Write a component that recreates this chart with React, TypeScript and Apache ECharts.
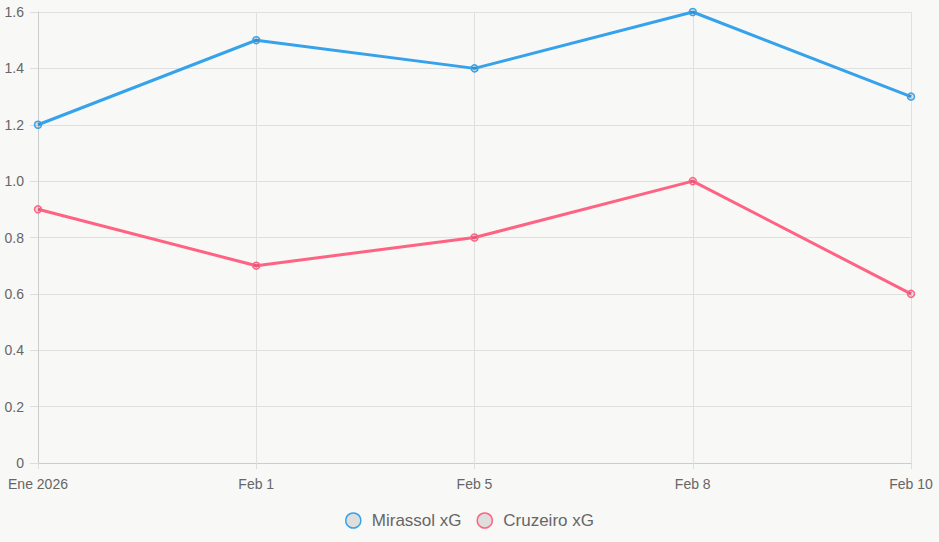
import React, { useEffect, useRef } from "react";
import * as echarts from "echarts";

const categories = ["Ene 2026", "Feb 1", "Feb 5", "Feb 8", "Feb 10"];
const mirassolXG = [1.2, 1.5, 1.4, 1.6, 1.3];
const cruzeiroXG = [0.9, 0.7, 0.8, 1.0, 0.6];
const seriesNames = ["Mirassol xG", "Cruzeiro xG"];

const BLUE = "#36a2eb";
const RED = "#ff6384";
const FONT = "'Liberation Sans', Arial, Helvetica, sans-serif";

export default function App() {
  const ref = useRef<HTMLDivElement>(null);
  useEffect(() => {
    document.body.style.margin = "0";
    const chart = echarts.init(ref.current!, null, { renderer: "svg" });
    const mkSeries = (name: string, data: number[], color: string) => ({
      name,
      type: "line",
      data,
      symbol: "circle",
      symbolSize: 7,
      showSymbol: true,
      lineStyle: { color, width: 3 },
      itemStyle: { color: "rgba(0,0,0,0.1)", borderColor: color, borderWidth: 1.5 },
      emphasis: { disabled: true },
    });
    chart.setOption({
      animation: false,
      backgroundColor: "#f8f8f6",
      textStyle: { fontFamily: FONT },
      grid: { left: 38, right: 28, top: 12, bottom: 79, containLabel: false },
      legend: {
        bottom: 8,
        left: "center",
        icon: "circle",
        itemWidth: 15,
        itemHeight: 15,
        itemGap: 15,
        itemStyle: { borderWidth: 1.5 },
        textStyle: { fontSize: 17, color: "#666", fontFamily: FONT, padding: [0, 0, 0, 6] },
        data: seriesNames,
      },
      xAxis: {
        type: "category",
        data: categories,
        boundaryGap: false,
        axisLine: { show: true, lineStyle: { color: "#cccccc", width: 1 } },
        axisTick: { show: true, length: 6, lineStyle: { color: "#dddddd" } },
        axisLabel: { color: "#666", fontSize: 14, margin: 14, fontFamily: FONT },
        splitLine: { show: true, lineStyle: { color: "#e0e0e0", width: 1 } },
      },
      yAxis: {
        type: "value",
        min: 0,
        max: 1.6,
        interval: 0.2,
        axisLine: { show: true, lineStyle: { color: "#cccccc", width: 1 } },
        axisTick: { show: true, length: 8, lineStyle: { color: "#dddddd" } },
        axisLabel: {
          color: "#666",
          fontSize: 14,
          margin: 14,
          fontFamily: FONT,
          formatter: (v: number) => (v === 0 ? "0" : v.toFixed(1)),
        },
        splitLine: { show: true, lineStyle: { color: "#e0e0e0", width: 1 } },
      },
      series: [
        mkSeries(seriesNames[0], mirassolXG, BLUE),
        mkSeries(seriesNames[1], cruzeiroXG, RED),
      ],
    });
    return () => chart.dispose();
  }, []);
  return <div ref={ref} style={{ width: 939, height: 542 }} />;
}
